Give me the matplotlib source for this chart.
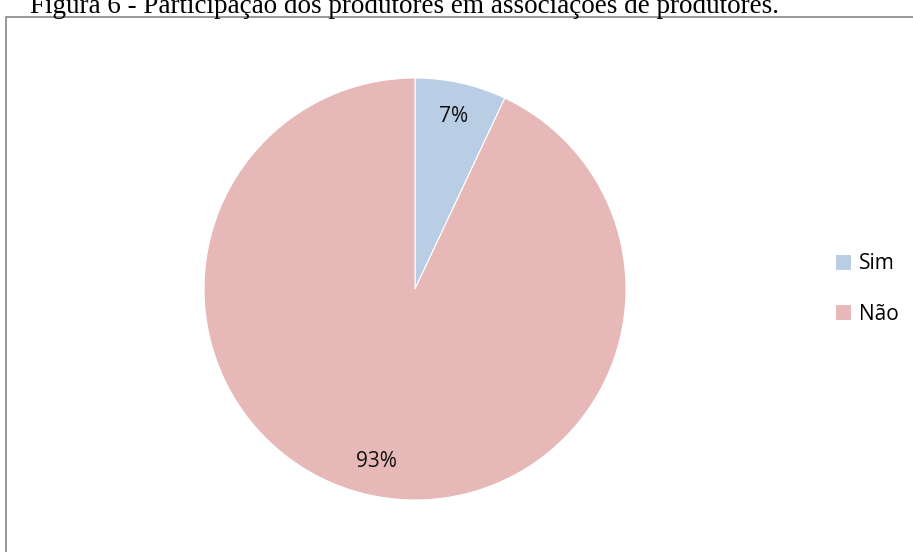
import matplotlib.pyplot as plt
from matplotlib.patches import Rectangle

# dados
categorias = ['Sim', 'Não']
valores = [7, 93]
cores = ['#B9CDE5', '#E6B9B8']
titulo = 'Figura 6 - Participação dos produtores em associações de produtores.'

W, H = 913, 552
fig = plt.figure(figsize=(W / 100, H / 100), dpi=100)

# moldura do gráfico (cortada à direita e em baixo)
fig.patches.append(Rectangle((6 / W, -0.1), 1.0, (H - 17) / H + 0.1,
                             transform=fig.transFigure, fill=False,
                             edgecolor='#868686', linewidth=1.2))

fig.text(30 / W, (H - 13) / H, titulo, family='Liberation Serif',
         fontsize=19.5, va='baseline', ha='left')

# pizza: centro (415, 289), raio 211 px
cx, cy, r = 415, 289, 211
ax = fig.add_axes([(cx - r) / W, (H - cy - r) / H, 2 * r / W, 2 * r / H])
wedges, _, autotexts = ax.pie(valores, colors=cores, startangle=90, counterclock=False,
                              autopct='%1.0f%%', pctdistance=0.84,
                              wedgeprops=dict(edgecolor='white', linewidth=0.8),
                              textprops=dict(fontsize=15, family='Open Sans', color='#111111'))
ax.set_xlim(-1, 1)
ax.set_ylim(-1, 1)
ax.set_aspect('auto')

fig.legend(wedges, categorias, loc='center left', bbox_to_anchor=(816 / W, (H - 289) / H),
           frameon=False, prop=dict(family='Open Sans', size=15),
           handlelength=0.8, handleheight=0.8, handletextpad=0.35, labelspacing=1.4)

fig.savefig('out.png', dpi=100)
